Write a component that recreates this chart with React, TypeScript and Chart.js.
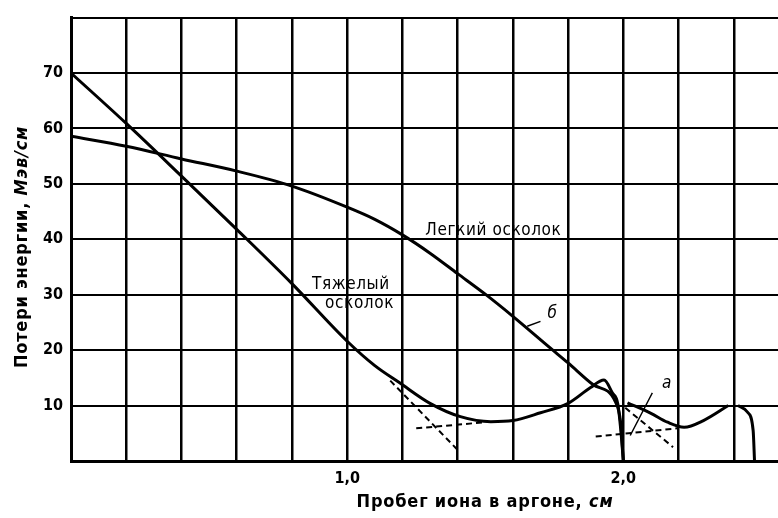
import React, { useEffect, useRef } from "react";
import { Chart, registerables } from "chart.js";

Chart.register(...registerables);

// ---- data (range, cm ; energy loss, MeV/cm) ----
const heavyX = [0, 0.2, 0.4, 0.6, 0.8, 1.0, 1.1, 1.19, 1.3, 1.41, 1.52, 1.6, 1.7, 1.8, 1.88, 1.93, 1.96, 1.98, 1.99, 2.0];
const heavyY = [70, 60.9, 51.4, 41.8, 32, 21.6, 17.2, 14.1, 10.4, 8.0, 7.1, 7.3, 8.7, 10.4, 13.2, 14.6, 12.3, 10.3, 6, 0];

const lightX = [0, 0.2, 0.4, 0.6, 0.8, 1.0, 1.1, 1.2, 1.3, 1.4, 1.5, 1.6, 1.735, 1.8, 1.89, 1.97, 1.99, 2.0];
const lightY = [58.6, 56.8, 54.5, 52.3, 49.6, 45.8, 43.6, 40.8, 37.5, 33.8, 30.1, 26.1, 20.4, 17.7, 13.8, 10.8, 7, 0];

const curveAX = [2.015, 2.1, 2.16, 2.22, 2.29, 2.38];
const curveAY = [10.5, 8.6, 7.0, 6.1, 7.3, 10];

const tailX = [2.415, 2.45, 2.47, 2.475];
const tailY = [10, 8.8, 5.5, 0];

const dashHeavyTanX = [1.156, 1.4];
const dashHeavyTanY = [14.5, 2.0];
const dashHeavyFlatX = [1.25, 1.5];
const dashHeavyFlatY = [5.9, 7.0];
const dashATanX = [2.007, 2.18];
const dashATanY = [9.6, 2.5];
const dashAFlatX = [1.9, 2.195];
const dashAFlatY = [4.4, 5.9];

const leaderAX = [2.105, 2.025];
const leaderAY = [12.3, 4.6];
const leaderBX = [1.7, 1.652];
const leaderBY = [25.2, 24.3];

const xGridTicks = [0, 0.2, 0.4, 0.6, 0.8, 1.0, 1.2, 1.4, 1.6, 1.8, 2.0, 2.2, 2.4];
const xTickLabels: Record<string, string> = { "1": "1,0", "2": "2,0" };
const yGridTicks = [10, 20, 30, 40, 50, 60, 70, 80];
const yTickLabels: Record<string, string> = { "10": "10", "20": "20", "30": "30", "40": "40", "50": "50", "60": "60", "70": "70" };

const xTitleParts = [
  { text: "Пробег иона в аргоне, ", italic: false },
  { text: "см", italic: true },
];
const yTitleParts = [
  { text: "Потери энергии, ", italic: false },
  { text: "Мэв/см", italic: true },
];

const notes = [
  { text: "Легкий осколок", x: 1.283, y: 41.6, italic: false },
  { text: "Тяжелый", x: 0.873, y: 31.8, italic: false },
  { text: "осколок", x: 0.92, y: 28.4, italic: false },
  { text: "б", x: 1.725, y: 26.6, italic: true },
  { text: "a", x: 2.14, y: 13.9, italic: true },
];

const FONT = '"DejaVu Sans Condensed", "Liberation Sans Narrow", "DejaVu Sans", sans-serif';

const pts = (xs: number[], ys: number[]) => xs.map((x, i) => ({ x, y: ys[i] }));

function drawParts(ctx: any, parts: { text: string; italic: boolean }[], cx: number, cy: number, size: number, spacing: number) {
  const fontOf = (it: boolean) => `${it ? "italic " : ""}bold ${size}px ${FONT}`;
  ctx.letterSpacing = `${spacing}px`;
  let total = 0;
  const widths = parts.map((p) => {
    ctx.font = fontOf(p.italic);
    const w = ctx.measureText(p.text).width;
    total += w;
    return w;
  });
  let x = cx - total / 2;
  ctx.textAlign = "left";
  ctx.textBaseline = "middle";
  parts.forEach((p, i) => {
    ctx.font = fontOf(p.italic);
    ctx.fillText(p.text, x, cy);
    x += widths[i];
  });
  ctx.letterSpacing = "0px";
}

export default function App() {
  const ref = useRef<HTMLCanvasElement | null>(null);

  useEffect(() => {
    if (!ref.current) return;
    const solid = (xs: number[], ys: number[], w = 3) => ({
      data: pts(xs, ys),
      borderColor: "#000",
      borderWidth: w,
      showLine: true,
      pointRadius: 0,
      cubicInterpolationMode: "monotone" as const,
      fill: false,
    });
    const dashed = (xs: number[], ys: number[]) => ({
      data: pts(xs, ys),
      borderColor: "#000",
      borderWidth: 2,
      borderDash: [6, 4],
      showLine: true,
      pointRadius: 0,
      fill: false,
    });

    const notePlugin = {
      id: "notes",
      afterDatasetsDraw(chart: any) {
        const { ctx, scales } = chart;
        ctx.save();
        ctx.fillStyle = "#000";
        ctx.textBaseline = "middle";
        ctx.textAlign = "left";
        for (const n of notes) {
          ctx.font = `${n.italic ? "italic " : ""}17px ${FONT}`;
          ctx.letterSpacing = n.italic ? "0px" : "0.6px";
          ctx.fillText(n.text, scales.x.getPixelForValue(n.x), scales.y.getPixelForValue(n.y));
        }
        ctx.letterSpacing = "0px";
        // axis titles
        drawParts(ctx, xTitleParts, 485, 502, 18, 0.8);
        ctx.save();
        ctx.translate(22, 247);
        ctx.rotate(-Math.PI / 2);
        drawParts(ctx, yTitleParts, 0, 0, 18, 0.8);
        ctx.restore();
        ctx.restore();
      },
    };

    const chart = new Chart(ref.current, {
      type: "scatter",
      data: {
        datasets: [
          solid(heavyX, heavyY),
          solid(lightX, lightY),
          solid(curveAX, curveAY),
          solid(tailX, tailY),
          dashed(dashHeavyTanX, dashHeavyTanY),
          dashed(dashHeavyFlatX, dashHeavyFlatY),
          dashed(dashATanX, dashATanY),
          dashed(dashAFlatX, dashAFlatY),
          solid(leaderAX, leaderAY, 1.5),
          solid(leaderBX, leaderBY, 1.5),
        ] as any,
      },
      options: {
        animation: false,
        responsive: false,
        devicePixelRatio: 1,
        layout: { padding: { top: 12, right: 0, left: 0, bottom: 0 } },
        plugins: { legend: { display: false }, tooltip: { enabled: false } },
        scales: {
          x: {
            type: "linear",
            min: 0,
            max: 2.56,
            afterBuildTicks: (s: any) => {
              s.ticks = xGridTicks.map((v) => ({ value: v }));
            },
            afterFit: (s: any) => {
              s.height = 57;
            },
            ticks: {
              autoSkip: false,
              maxRotation: 0,
              padding: 8,
              color: "#000",
              font: { family: FONT, size: 16, weight: "bold" },
              callback: (v: any) => xTickLabels[String(Math.round(Number(v) * 100) / 100)] ?? "",
            },
            grid: { color: "#000", lineWidth: 2.5, drawTicks: false },
            border: { display: true, color: "#000", width: 3 },
            title: { display: false },
          },
          y: {
            type: "linear",
            min: 0,
            max: 80,
            afterBuildTicks: (s: any) => {
              s.ticks = yGridTicks.map((v) => ({ value: v }));
            },
            afterFit: (s: any) => {
              s.width = 71;
            },
            ticks: {
              autoSkip: false,
              padding: 8,
              color: "#000",
              font: { family: FONT, size: 16, weight: "bold" },
              callback: (v: any) => yTickLabels[String(v)] ?? "",
            },
            grid: { color: "#000", lineWidth: 2, drawTicks: false },
            border: { display: true, color: "#000", width: 3 },
            title: { display: false },
          },
        },
      },
      plugins: [notePlugin],
    } as any);
    return () => chart.destroy();
  }, []);

  return (
    <div style={{ position: "fixed", left: 0, top: 0, width: 778, height: 518, background: "#fff" }}>
      <canvas ref={ref} width={778} height={518} />
    </div>
  );
}
